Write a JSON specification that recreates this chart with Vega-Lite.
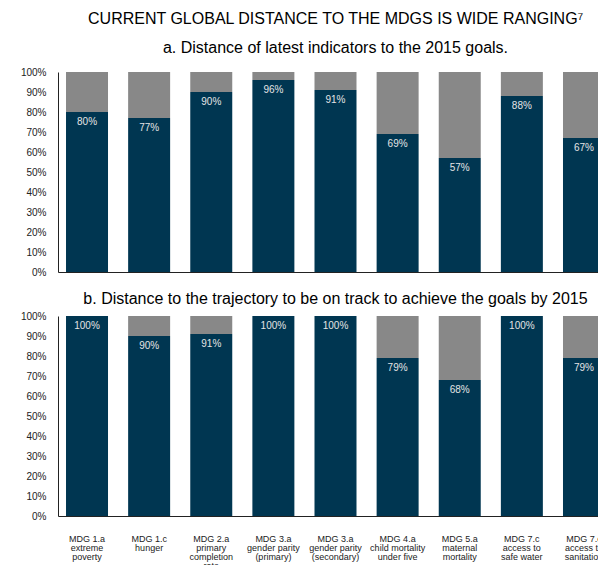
{
  "$schema": "https://vega.github.io/schema/vega-lite/v6.json",
  "background": "white",
  "padding": {"left": 20, "top": 11, "right": 0, "bottom": 0},
  "title": {"text": "CURRENT GLOBAL DISTANCE TO THE MDGS IS WIDE RANGING⁷", "fontSize": 16, "font": "Liberation Sans", "fontWeight": "normal", "color": "#000000", "anchor": "middle", "offset": 13, "dx": 19},
  "config": {
    "view": {"stroke": null},
    "font": "Liberation Sans",
    "axis": {"domainColor": "#222222", "grid": false, "ticks": false, "labelFont": "Liberation Sans", "labelColor": "#222222", "title": null},
    "title": {"font": "Liberation Sans", "fontWeight": "normal", "fontSize": 16, "color": "#000000"}
  },
  "datasets": {
    "bars": [
      {"panel": "a", "order": 1, "mdg": "MDG 1.a|extreme|poverty", "part": "achieved", "value": 0.80},
      {"panel": "a", "order": 1, "mdg": "MDG 1.a|extreme|poverty", "part": "remaining", "value": 0.20},
      {"panel": "a", "order": 2, "mdg": "MDG 1.c|hunger", "part": "achieved", "value": 0.77},
      {"panel": "a", "order": 2, "mdg": "MDG 1.c|hunger", "part": "remaining", "value": 0.23},
      {"panel": "a", "order": 3, "mdg": "MDG 2.a|primary|completion|rate", "part": "achieved", "value": 0.90},
      {"panel": "a", "order": 3, "mdg": "MDG 2.a|primary|completion|rate", "part": "remaining", "value": 0.10},
      {"panel": "a", "order": 4, "mdg": "MDG 3.a|gender parity|(primary)", "part": "achieved", "value": 0.96},
      {"panel": "a", "order": 4, "mdg": "MDG 3.a|gender parity|(primary)", "part": "remaining", "value": 0.04},
      {"panel": "a", "order": 5, "mdg": "MDG 3.a|gender parity|(secondary)", "part": "achieved", "value": 0.91},
      {"panel": "a", "order": 5, "mdg": "MDG 3.a|gender parity|(secondary)", "part": "remaining", "value": 0.09},
      {"panel": "a", "order": 6, "mdg": "MDG 4.a|child mortality|under five", "part": "achieved", "value": 0.69},
      {"panel": "a", "order": 6, "mdg": "MDG 4.a|child mortality|under five", "part": "remaining", "value": 0.31},
      {"panel": "a", "order": 7, "mdg": "MDG 5.a|maternal|mortality", "part": "achieved", "value": 0.57},
      {"panel": "a", "order": 7, "mdg": "MDG 5.a|maternal|mortality", "part": "remaining", "value": 0.43},
      {"panel": "a", "order": 8, "mdg": "MDG 7.c|access to|safe water", "part": "achieved", "value": 0.88},
      {"panel": "a", "order": 8, "mdg": "MDG 7.c|access to|safe water", "part": "remaining", "value": 0.12},
      {"panel": "a", "order": 9, "mdg": "MDG 7.c|access to|sanitation", "part": "achieved", "value": 0.67},
      {"panel": "a", "order": 9, "mdg": "MDG 7.c|access to|sanitation", "part": "remaining", "value": 0.33},
      {"panel": "b", "order": 1, "mdg": "MDG 1.a|extreme|poverty", "part": "achieved", "value": 1.00},
      {"panel": "b", "order": 1, "mdg": "MDG 1.a|extreme|poverty", "part": "remaining", "value": 0.00},
      {"panel": "b", "order": 2, "mdg": "MDG 1.c|hunger", "part": "achieved", "value": 0.90},
      {"panel": "b", "order": 2, "mdg": "MDG 1.c|hunger", "part": "remaining", "value": 0.10},
      {"panel": "b", "order": 3, "mdg": "MDG 2.a|primary|completion|rate", "part": "achieved", "value": 0.91},
      {"panel": "b", "order": 3, "mdg": "MDG 2.a|primary|completion|rate", "part": "remaining", "value": 0.09},
      {"panel": "b", "order": 4, "mdg": "MDG 3.a|gender parity|(primary)", "part": "achieved", "value": 1.00},
      {"panel": "b", "order": 4, "mdg": "MDG 3.a|gender parity|(primary)", "part": "remaining", "value": 0.00},
      {"panel": "b", "order": 5, "mdg": "MDG 3.a|gender parity|(secondary)", "part": "achieved", "value": 1.00},
      {"panel": "b", "order": 5, "mdg": "MDG 3.a|gender parity|(secondary)", "part": "remaining", "value": 0.00},
      {"panel": "b", "order": 6, "mdg": "MDG 4.a|child mortality|under five", "part": "achieved", "value": 0.79},
      {"panel": "b", "order": 6, "mdg": "MDG 4.a|child mortality|under five", "part": "remaining", "value": 0.21},
      {"panel": "b", "order": 7, "mdg": "MDG 5.a|maternal|mortality", "part": "achieved", "value": 0.68},
      {"panel": "b", "order": 7, "mdg": "MDG 5.a|maternal|mortality", "part": "remaining", "value": 0.32},
      {"panel": "b", "order": 8, "mdg": "MDG 7.c|access to|safe water", "part": "achieved", "value": 1.00},
      {"panel": "b", "order": 8, "mdg": "MDG 7.c|access to|safe water", "part": "remaining", "value": 0.00},
      {"panel": "b", "order": 9, "mdg": "MDG 7.c|access to|sanitation", "part": "achieved", "value": 0.79},
      {"panel": "b", "order": 9, "mdg": "MDG 7.c|access to|sanitation", "part": "remaining", "value": 0.21}
    ]
  },
  "spacing": 14,
  "vconcat": [
    {
      "title": {"text": "a. Distance of latest indicators to the 2015 goals.", "anchor": "middle", "offset": 11},
      "width": 555,
      "height": 200,
      "data": {"name": "bars"},
      "transform": [{"filter": "datum.panel == 'a'"}],
      "encoding": {
        "x": {"field": "mdg", "type": "nominal", "sort": {"field": "order"}, "scale": {"paddingInner": 0.324, "paddingOuter": 0.129},
              "axis": {"labels": false, "domain": true}},
        "y": {"field": "value", "type": "quantitative", "stack": "zero", "scale": {"domain": [0, 1]},
              "axis": {"values": [0, 0.1, 0.2, 0.3, 0.4, 0.5, 0.6, 0.7, 0.8, 0.9, 1], "format": ".0%", "labelFontSize": 10, "labelPadding": 12, "labelOverlap": false}}
      },
      "layer": [
        {
          "mark": {"type": "bar"},
          "encoding": {
            "color": {"field": "part", "type": "nominal", "scale": {"domain": ["achieved", "remaining"], "range": ["#003651", "#888888"]}, "legend": null},
            "order": {"field": "part", "type": "nominal", "sort": "ascending"}
          }
        },
        {
          "transform": [{"filter": "datum.part == 'achieved'"}],
          "mark": {"type": "text", "dy": 10, "baseline": "middle", "fontSize": 10, "color": "#e4e4e4"},
          "encoding": {
            "text": {"field": "value", "type": "quantitative", "format": ".0%"}
          }
        }
      ]
    },
    {
      "title": {"text": "b. Distance to the trajectory to be on track to achieve the goals by 2015", "anchor": "middle", "offset": 4},
      "width": 555,
      "height": 200,
      "data": {"name": "bars"},
      "transform": [{"filter": "datum.panel == 'b'"}],
      "encoding": {
        "x": {"field": "mdg", "type": "nominal", "sort": {"field": "order"}, "scale": {"paddingInner": 0.324, "paddingOuter": 0.129},
              "axis": {"labelExpr": "split(datum.label, '|')", "labelAngle": 0, "labelFontSize": 9, "labelLineHeight": 9, "labelPadding": 18, "labelBaseline": "top", "labelLimit": 200}},
        "y": {"field": "value", "type": "quantitative", "stack": "zero", "scale": {"domain": [0, 1]},
              "axis": {"values": [0, 0.1, 0.2, 0.3, 0.4, 0.5, 0.6, 0.7, 0.8, 0.9, 1], "format": ".0%", "labelFontSize": 10, "labelPadding": 12, "labelOverlap": false}}
      },
      "layer": [
        {
          "mark": {"type": "bar"},
          "encoding": {
            "color": {"field": "part", "type": "nominal", "scale": {"domain": ["achieved", "remaining"], "range": ["#003651", "#888888"]}, "legend": null},
            "order": {"field": "part", "type": "nominal", "sort": "ascending"}
          }
        },
        {
          "transform": [{"filter": "datum.part == 'achieved'"}],
          "mark": {"type": "text", "dy": 10, "baseline": "middle", "fontSize": 10, "color": "#e4e4e4"},
          "encoding": {
            "text": {"field": "value", "type": "quantitative", "format": ".0%"}
          }
        }
      ]
    }
  ]
}
